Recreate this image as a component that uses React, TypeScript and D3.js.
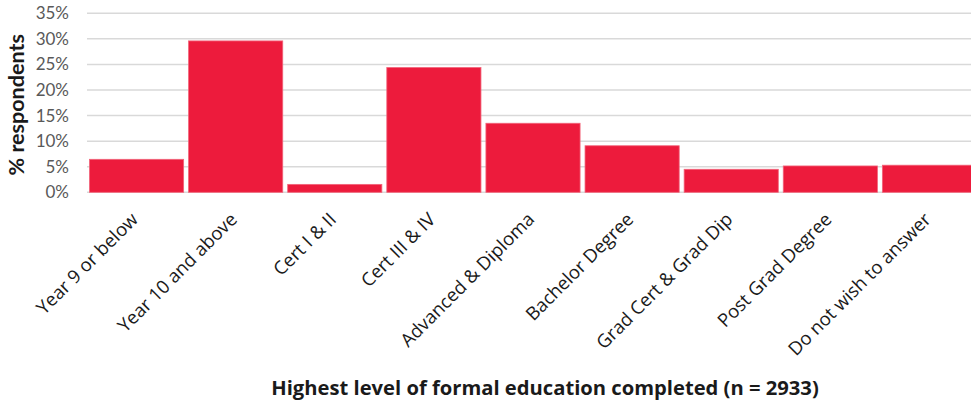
import React from "react";
import * as d3 from "d3";

const categories = [
  "Year 9 or below",
  "Year 10 and above",
  "Cert I & II",
  "Cert III & IV",
  "Advanced & Diploma",
  "Bachelor Degree",
  "Grad Cert & Grad Dip",
  "Post Grad Degree",
  "Do not wish to answer",
];
const values = [6.45, 29.6, 1.55, 24.4, 13.5, 9.1, 4.5, 5.15, 5.3];
const yTicks = [0, 5, 10, 15, 20, 25, 30, 35];
const yTitle = "% respondents";
const xTitle = "Highest level of formal education completed (n = 2933)";

const W = 971;
const H = 406;
const plotLeft = 87;
const plotRight = 979;
const y0px = 192.3;
const yTopPx = 13.3;

export default function App() {
  const x = d3
    .scaleBand<string>()
    .domain(categories)
    .range([plotLeft, plotRight])
    .paddingInner(0.05)
    .paddingOuter(0.025);
  const y = d3.scaleLinear().domain([0, 35]).range([y0px, yTopPx]);
  const font = "Lato, 'Open Sans', sans-serif";

  return (
    <div style={{ position: "absolute", left: 0, top: 0 }}>
      <svg width={W} height={H} style={{ display: "block", background: "#fff" }}>
        {yTicks.map((t) => (
          <g key={t}>
            <line
              x1={plotLeft}
              x2={W}
              y1={y(t)}
              y2={y(t)}
              stroke="#d9d9d9"
              strokeWidth={1.5}
            />
            <text
              x={69}
              y={y(t)}
              dy="0.35em"
              textAnchor="end"
              fontFamily={font}
              fontSize={17}
              fill="#595959"
            >
              {t}%
            </text>
          </g>
        ))}
        {categories.map((c, i) => (
          <rect
            key={c}
            x={x(c)}
            y={y(values[i])}
            width={x.bandwidth()}
            height={y0px - y(values[i])}
            fill="#ed1b3c"
            stroke="#f2647a"
            strokeWidth={0.8}
          />
        ))}
        {categories.map((c) => {
          const cx = (x(c) ?? 0) + x.bandwidth() / 2;
          return (
            <text
              key={c}
              transform={`translate(${cx - 2},${216}) rotate(-45)`}
              textAnchor="end"
              dy="0.35em"
              fontFamily="'Open Sans', sans-serif"
              fontSize={18.5}
              fill="#1a1a1a"
            >
              {c}
            </text>
          );
        })}
        <text
          transform={`translate(24,${(y0px + yTopPx) / 2 + 2}) rotate(-90)`}
          textAnchor="middle"
          fontFamily={font}
          fontWeight="bold"
          fontSize={21.5}
          fill="#1a1a1a"
        >
          {yTitle}
        </text>
        <text
          x={545}
          y={395}
          textAnchor="middle"
          fontFamily="'Open Sans', sans-serif"
          fontWeight="bold"
          fontSize={20.2}
          fill="#1a1a1a"
        >
          {xTitle}
        </text>
      </svg>
    </div>
  );
}
